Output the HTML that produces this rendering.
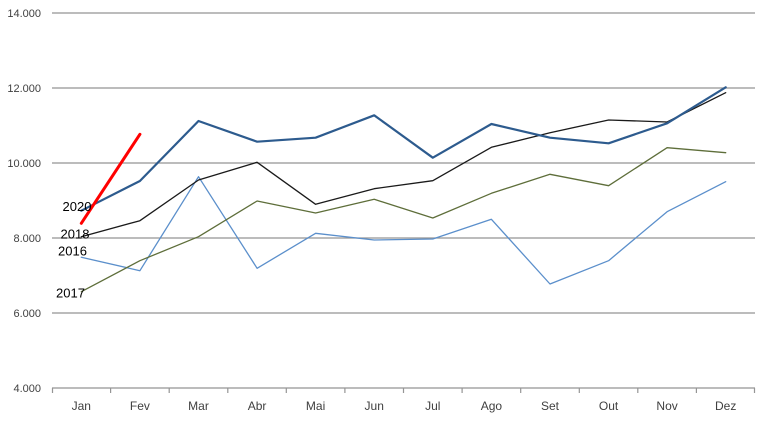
<!DOCTYPE html>
<html><head><meta charset="utf-8"><style>
html,body{margin:0;padding:0;background:#fff;}
svg{display:block;}
text{font-family:"Liberation Sans",sans-serif;}
</style></head><body>
<svg width="768" height="422" viewBox="0 0 768 422" xmlns="http://www.w3.org/2000/svg">
<g stroke="#959595" stroke-width="1.2">
<line x1="52" y1="13" x2="755" y2="13"/>
<line x1="52" y1="88" x2="755" y2="88"/>
<line x1="52" y1="163" x2="755" y2="163"/>
<line x1="52" y1="238" x2="755" y2="238"/>
<line x1="52" y1="313" x2="755" y2="313"/>
<line x1="52" y1="388" x2="755" y2="388"/>
<line x1="52.5" y1="388" x2="52.5" y2="393"/>
<line x1="110.6" y1="388" x2="110.6" y2="393"/>
<line x1="169.2" y1="388" x2="169.2" y2="393"/>
<line x1="227.8" y1="388" x2="227.8" y2="393"/>
<line x1="286.3" y1="388" x2="286.3" y2="393"/>
<line x1="344.9" y1="388" x2="344.9" y2="393"/>
<line x1="403.5" y1="388" x2="403.5" y2="393"/>
<line x1="462.1" y1="388" x2="462.1" y2="393"/>
<line x1="520.7" y1="388" x2="520.7" y2="393"/>
<line x1="579.3" y1="388" x2="579.3" y2="393"/>
<line x1="637.8" y1="388" x2="637.8" y2="393"/>
<line x1="696.4" y1="388" x2="696.4" y2="393"/>
<line x1="754.5" y1="388" x2="754.5" y2="393"/>
</g>
<g font-size="11" fill="#404040" text-anchor="end">
<text x="41" y="17">14.000</text>
<text x="41" y="92">12.000</text>
<text x="41" y="167">10.000</text>
<text x="41" y="242">8.000</text>
<text x="41" y="317">6.000</text>
<text x="41" y="392">4.000</text>
</g>
<g font-size="12" fill="#404040" text-anchor="middle">
<text x="81.3" y="410">Jan</text>
<text x="139.9" y="410">Fev</text>
<text x="198.5" y="410">Mar</text>
<text x="257.1" y="410">Abr</text>
<text x="315.6" y="410">Mai</text>
<text x="374.2" y="410">Jun</text>
<text x="432.8" y="410">Jul</text>
<text x="491.4" y="410">Ago</text>
<text x="550" y="410">Set</text>
<text x="608.6" y="410">Out</text>
<text x="667.1" y="410">Nov</text>
<text x="725.7" y="410">Dez</text>
</g>
<g fill="none" stroke-linejoin="round" stroke-linecap="round">
<polyline stroke="#5B8FCB" stroke-width="1.3" points="81.3,257.3 139.9,270.7 198.5,176.7 257.1,268.3 315.6,233.3 374.2,240 432.8,239 491.4,219.3 550,284 608.6,260.7 667.1,211.7 725.7,181.7"/>
<polyline stroke="#5E6E3A" stroke-width="1.3" points="81.3,291.7 139.9,260.7 198.5,236.7 257.1,201 315.6,213 374.2,199.3 432.8,218 491.4,193.3 550,174.3 608.6,185.7 667.1,147.7 725.7,152.7"/>
<polyline stroke="#1a1a1a" stroke-width="1.3" points="81.3,236.7 139.9,220.7 198.5,180 257.1,162.3 315.6,204.3 374.2,188.7 432.8,180.7 491.4,147.3 550,132.7 608.6,120 667.1,122 725.7,92.7"/>
<polyline stroke="#2D5B8E" stroke-width="2.2" points="81.3,210.7 139.9,181 198.5,121 257.1,141.7 315.6,137.7 374.2,115.3 432.8,157.7 491.4,124 550,137.7 608.6,143.3 667.1,123.3 725.7,87.3"/>
<polyline stroke="#FF0000" stroke-width="3" points="81.3,223.3 139.9,134.3"/>
</g>
<g font-size="13" fill="#000">
<text x="62.5" y="211">2020</text>
<text x="60.5" y="238.5">2018</text>
<text x="58" y="255.5">2016</text>
<text x="56" y="297.5">2017</text>
</g>
</svg>
</body></html>
